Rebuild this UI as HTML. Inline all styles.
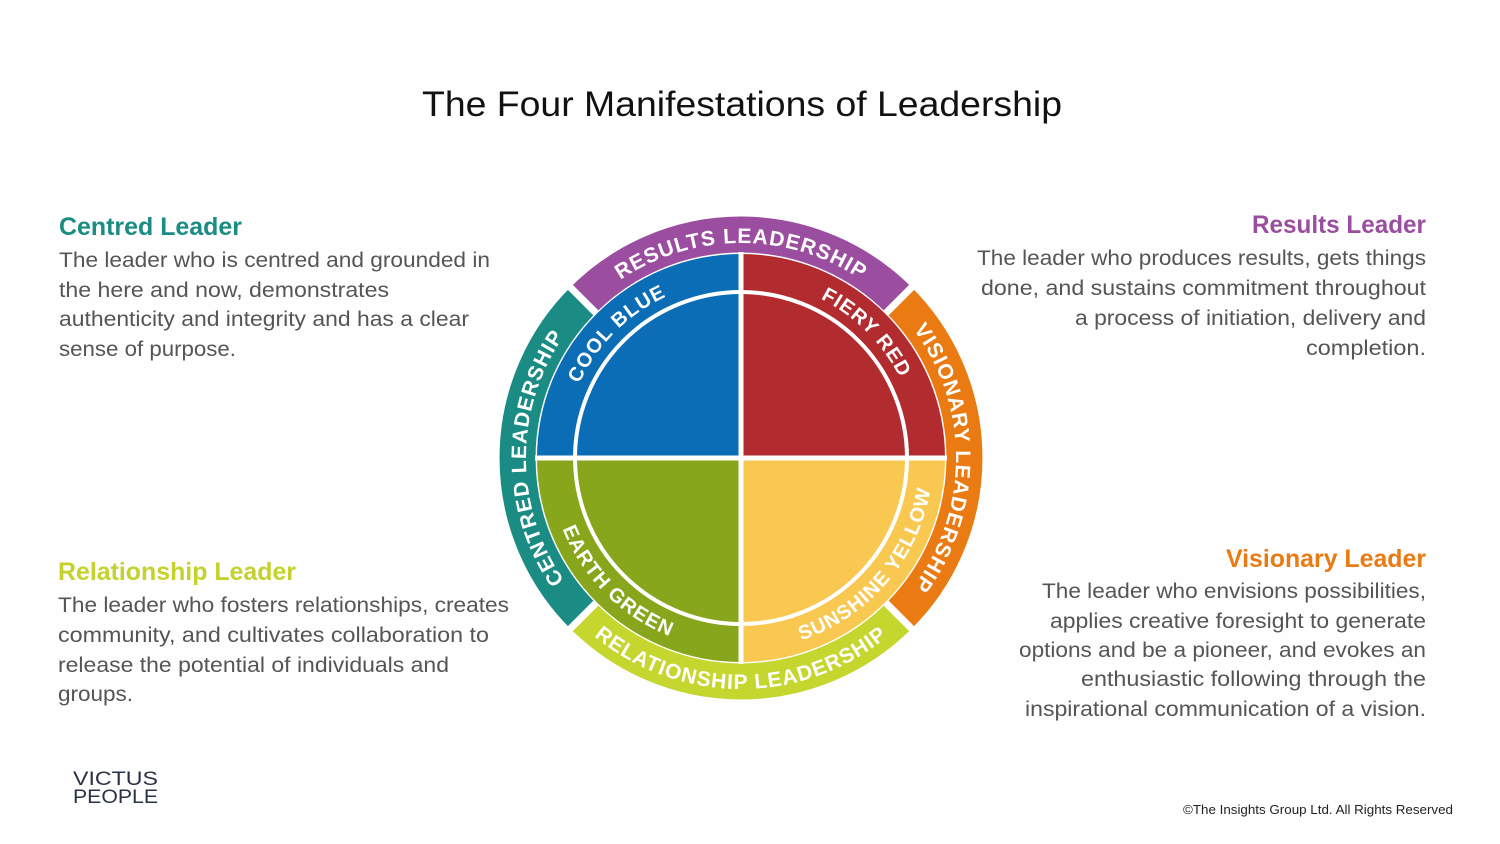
<!DOCTYPE html>
<html><head><meta charset="utf-8"><style>
html,body{margin:0;padding:0;background:#fff;}
svg{display:block;}
text{font-family:"Liberation Sans",sans-serif;}
</style></head><body>
<svg width="1500" height="844" viewBox="0 0 1500 844" xmlns="http://www.w3.org/2000/svg">
<rect width="1500" height="844" fill="#fefefe"/>
<text x="422" y="116" font-size="35" fill="#111" textLength="640" lengthAdjust="spacingAndGlyphs">The Four Manifestations of Leadership</text>

<g fill="#555" font-size="21">
<text x="59" y="235" font-size="25" font-weight="bold" fill="#1a8c84" textLength="183" lengthAdjust="spacingAndGlyphs">Centred Leader</text>
<text x="59" y="267" textLength="431" lengthAdjust="spacingAndGlyphs">The leader who is centred and grounded in</text>
<text x="59" y="297" textLength="330" lengthAdjust="spacingAndGlyphs">the here and now, demonstrates</text>
<text x="59" y="326" textLength="410" lengthAdjust="spacingAndGlyphs">authenticity and integrity and has a clear</text>
<text x="59" y="356" textLength="177" lengthAdjust="spacingAndGlyphs">sense of purpose.</text>

<text x="58" y="580" font-size="25" font-weight="bold" fill="#c5d22e" textLength="238" lengthAdjust="spacingAndGlyphs">Relationship Leader</text>
<text x="58" y="612" textLength="451" lengthAdjust="spacingAndGlyphs">The leader who fosters relationships, creates</text>
<text x="58" y="642" textLength="431" lengthAdjust="spacingAndGlyphs">community, and cultivates collaboration to</text>
<text x="58" y="672" textLength="391" lengthAdjust="spacingAndGlyphs">release the potential of individuals and</text>
<text x="58" y="701" textLength="75" lengthAdjust="spacingAndGlyphs">groups.</text>

<text x="1252" y="233" font-size="25" font-weight="bold" fill="#9b4ea0" textLength="174" lengthAdjust="spacingAndGlyphs">Results Leader</text>
<text x="977" y="265" textLength="449" lengthAdjust="spacingAndGlyphs">The leader who produces results, gets things</text>
<text x="981" y="295" textLength="445" lengthAdjust="spacingAndGlyphs">done, and sustains commitment throughout</text>
<text x="1075" y="325" textLength="351" lengthAdjust="spacingAndGlyphs">a process of initiation, delivery and</text>
<text x="1306" y="355" textLength="120" lengthAdjust="spacingAndGlyphs">completion.</text>

<text x="1226" y="567" font-size="25" font-weight="bold" fill="#ea7a12" textLength="200" lengthAdjust="spacingAndGlyphs">Visionary Leader</text>
<text x="1042" y="598" textLength="384" lengthAdjust="spacingAndGlyphs">The leader who envisions possibilities,</text>
<text x="1050" y="628" textLength="376" lengthAdjust="spacingAndGlyphs">applies creative foresight to generate</text>
<text x="1019" y="657" textLength="407" lengthAdjust="spacingAndGlyphs">options and be a pioneer, and evokes an</text>
<text x="1081" y="686" textLength="345" lengthAdjust="spacingAndGlyphs">enthusiastic following through the</text>
<text x="1025" y="716" textLength="401" lengthAdjust="spacingAndGlyphs">inspirational communication of a vision.</text>
</g>

<text x="73" y="785" font-size="19" fill="#2a3345" textLength="85" lengthAdjust="spacingAndGlyphs">VICTUS</text>
<text x="73" y="803" font-size="19" fill="#2a3345" textLength="85" lengthAdjust="spacingAndGlyphs">PEOPLE</text>
<text x="1183" y="814" font-size="13" fill="#222" textLength="270" lengthAdjust="spacingAndGlyphs">©The Insights Group Ltd. All Rights Reserved</text>

<defs>
<path id="rTop" d="M526,458 A215,215 0 0 1 956,458"/>
<path id="rRight" d="M741,243 A215,215 0 0 1 741,673"/>
<path id="rLeft" d="M741,673 A215,215 0 0 1 741,243"/>
<path id="rBot" d="M510,458 A231,231 0 0 0 972,458"/>
<path id="iTL" d="M563,458 A178,178 0 0 1 741,280"/>
<path id="iTR" d="M741,280 A178,178 0 0 1 919,458"/>
<path id="iBL" d="M549,458 A192,192 0 0 0 741,650"/>
<path id="iBR" d="M741,650 A192,192 0 0 0 933,458"/>
</defs>

<!-- ring -->
<g stroke-width="36" fill="none">
<circle cx="741" cy="458" r="223" stroke="#fff"/>
<path d="M581.9,301.3 A223,223 0 0 1 900.1,301.3" stroke="#9b4ea0"/>
<path d="M897.7,298.9 A223,223 0 0 1 897.7,617.1" stroke="#ea7a12"/>
<path d="M900.1,614.7 A223,223 0 0 1 581.9,614.7" stroke="#c5d62f"/>
<path d="M584.3,617.1 A223,223 0 0 1 584.3,298.9" stroke="#1a8c84"/>
</g>
<g stroke="#fff" stroke-width="7">
<line x1="741" y1="458" x2="925" y2="274"/>
<line x1="741" y1="458" x2="557" y2="274"/>
<line x1="741" y1="458" x2="925" y2="642"/>
<line x1="741" y1="458" x2="557" y2="642"/>
</g>
<!-- quadrants -->
<path d="M741,458 L537,458 A204,204 0 0 1 741,254 Z" fill="#0a6db5"/>
<path d="M741,458 L741,254 A204,204 0 0 1 945,458 Z" fill="#b12b2f"/>
<path d="M741,458 L945,458 A204,204 0 0 1 741,662 Z" fill="#f9c851"/>
<path d="M741,458 L741,662 A204,204 0 0 1 537,458 Z" fill="#88a61b"/>
<circle cx="741" cy="458" r="166" fill="none" stroke="#fff" stroke-width="4"/>
<line x1="741" y1="252" x2="741" y2="664" stroke="#fff" stroke-width="5"/>
<line x1="535" y1="458" x2="947" y2="458" stroke="#fff" stroke-width="5"/>

<g fill="#fff" font-size="21" font-weight="bold" letter-spacing="1">
<text><textPath href="#rTop" startOffset="50%" text-anchor="middle">RESULTS LEADERSHIP</textPath></text>
<text><textPath href="#rRight" startOffset="50%" text-anchor="middle">VISIONARY LEADERSHIP</textPath></text>
<text><textPath href="#rLeft" startOffset="50%" text-anchor="middle">CENTRED LEADERSHIP</textPath></text>
<text><textPath href="#rBot" startOffset="50%" text-anchor="middle">RELATIONSHIP LEADERSHIP</textPath></text>
<text font-size="20"><textPath href="#iTL" startOffset="50%" text-anchor="middle">COOL BLUE</textPath></text>
<text font-size="20"><textPath href="#iTR" startOffset="50%" text-anchor="middle">FIERY RED</textPath></text>
<text font-size="20"><textPath href="#iBL" startOffset="50%" text-anchor="middle">EARTH GREEN</textPath></text>
<text font-size="20"><textPath href="#iBR" startOffset="55%" text-anchor="middle">SUNSHINE YELLOW</textPath></text>
</g>
</svg>
</body></html>
